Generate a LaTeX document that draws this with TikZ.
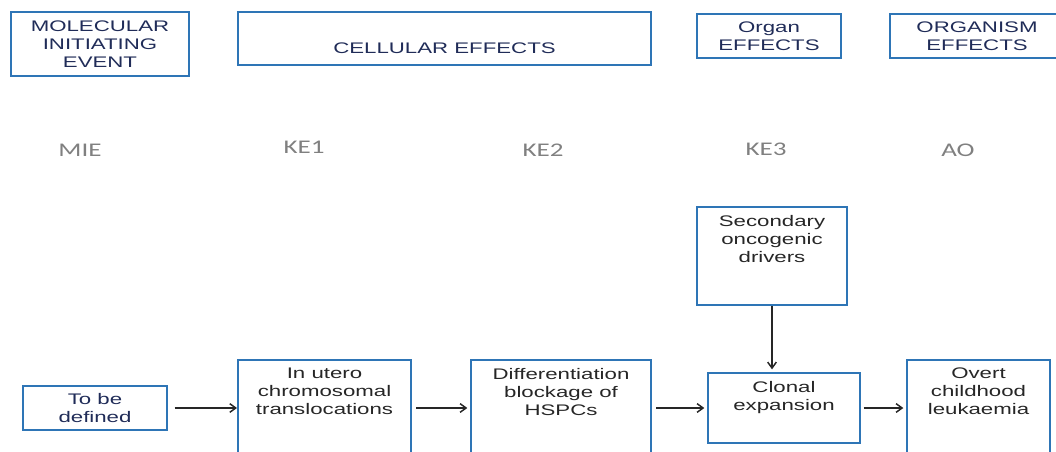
\documentclass[tikz,border=0pt]{standalone}
\usepackage{fontspec}
\setmainfont{Liberation Sans}[FakeStretch=1.45]
\newfontfamily\kefont{Carlito}[FakeStretch=1.4]
\usepackage{xcolor}
\definecolor{aopblue}{RGB}{46, 117, 182}
\definecolor{aopnavy}{RGB}{32, 44, 88}
\definecolor{aopgray}{RGB}{128, 128, 128}
\definecolor{aoptext}{RGB}{38, 38, 38}
\usepackage{tikz}
\usetikzlibrary{arrows.meta}

\begin{document}
\begin{tikzpicture}[
    x=0.75pt, y=-0.75pt,
    levelbox/.style={
      draw=aopblue,
      line width=1.5pt,
      inner sep=0pt,
      align=center,
      text=aopnavy,
      font=\fontsize{11.5}{13.5}\selectfont
    },
    eventbox/.style={
      draw=aopblue,
      line width=1.5pt,
      inner sep=0pt,
      align=center,
      text=aoptext,
      font=\fontsize{11.5}{13.5}\selectfont
    },
    eventtext/.style={
      anchor=north,
      yshift=-6.5pt,
      inner sep=0pt,
      align=center,
      text=aoptext,
      font=\fontsize{11.5}{13.5}\selectfont
    },
    keytext/.style={text=aopgray, font=\kefont\fontsize{14.5}{16}\selectfont},
    flow/.style={draw=black!85, line width=1.1pt, -{Straight Barb[length=4.5pt,width=6.5pt]}}
  ]
  \useasboundingbox (0,0) rectangle (1056,452);

  % levels of biological organisation
  \node[levelbox, minimum width=133.5pt, minimum height=48pt] (mie) at (100,44)
    {MOLECULAR\\INITIATING\\EVENT};
  \node[levelbox, minimum width=309.75pt, minimum height=39.75pt,
    label={[text=aopnavy, font=\fontsize{11.5}{13.5}\selectfont, yshift=-7.5pt]center:CELLULAR EFFECTS}]
    (cellular) at (444.5,38.5) {};
  \node[levelbox, minimum width=108pt, minimum height=33pt] (organ) at (769,36)
    {Organ\\EFFECTS};
  \node[levelbox, minimum width=130.5pt, minimum height=33pt] (organism) at (977,36)
    {ORGANISM\\EFFECTS};

  % key event row
  \node[keytext] (kmie) at (80,150) {MIE};
  \node[keytext] (kke1) at (304,147) {KE1};
  \node[keytext] (kke2) at (543,150) {KE2};
  \node[keytext] (kke3) at (766,149) {KE3};
  \node[keytext] (kao) at (958,150) {AO};

  % events
  \node[eventbox, text=aopnavy, minimum width=108pt, minimum height=33pt] (tbd) at (95,408)
    {To be\\defined};
  \node[eventbox, minimum width=129.75pt, minimum height=90pt,
    label={[eventtext]north:{In utero\\chromosomal\\translocations}}] (utero) at (324.5,420) {};
  \node[eventbox, minimum width=135pt, minimum height=90pt,
    label={[eventtext]north:{Differentiation\\blockage of\\HSPCs}}] (diff) at (561,420) {};
  \node[eventbox, minimum width=114pt, minimum height=52.5pt,
    label={[eventtext]north:{Clonal\\expansion}}] (clonal) at (784,408) {};
  \node[eventbox, minimum width=107.25pt, minimum height=90pt,
    label={[eventtext]north:{Overt\\childhood\\leukaemia}}] (overt) at (978.5,420) {};
  \node[eventbox, minimum width=112.5pt, minimum height=73.5pt,
    label={[eventtext]north:{Secondary\\oncogenic\\drivers}}] (second) at (772,256) {};

  % arrows
  \draw[flow, shorten <=5pt] (tbd.east) -- (tbd.east -| utero.west);
  \draw[flow, shorten <=3pt, shorten >=2pt] (utero.east |- tbd) -- (diff.west |- tbd);
  \draw[flow, shorten <=3pt, shorten >=2pt] (diff.east |- clonal) -- (clonal.west);
  \draw[flow, shorten <=2pt, shorten >=2pt] (clonal.east) -- (overt.west |- clonal);
  \draw[flow, shorten >=2pt] (second.south) -- (second.south |- clonal.north);
\end{tikzpicture}
\end{document}
